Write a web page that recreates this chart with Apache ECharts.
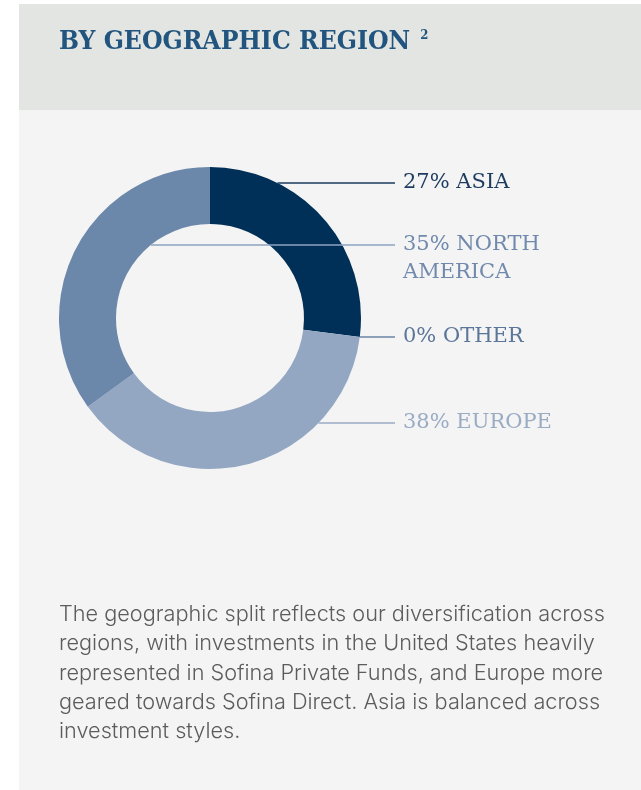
<!DOCTYPE html>
<html>
<head>
<meta charset="utf-8">
<script src="https://cdn.jsdelivr.net/npm/echarts@6/dist/echarts.min.js"></script>
<style>
	html, body { margin: 0; padding: 0; background: #ffffff; }
	#chart { width: 641px; height: 790px; }
</style>
</head>
<body>
<div id="chart"></div>
<script>
// regions in drawing order (clockwise from 12 o'clock)
var categories = ['ASIA', 'OTHER', 'EUROPE', 'NORTH AMERICA'];
var shares = [27, 0, 38, 35];

var sliceColors = ['#003057', '#5d7899', '#94a7c2', '#6b87aa'];
var labelColors = ['#1d3b5e', '#5b7699', '#9aabc4', '#7189ad'];
var lineColors = ['#1d3b5e', '#6a85a7', '#9aabc4', '#8ea3c0'];

var paragraph = [
	'The geographic split reflects our diversification across',
	'regions, with investments in the United States heavily',
	'represented in Sofina Private Funds, and Europe more',
	'geared towards Sofina Direct. Asia is balanced across',
	'investment styles.'
];

// layout
var cx = 210, cy = 318, rIn = 94, rOut = 151;
var lineEndX = 395, labelX = 403, labelLH = 28;
var labelRows = [183, 337, 423, 245]; // y of each leader line

// angular span of each slice, measured clockwise from the top
var total = shares.reduce((a, b) => a + b, 0);
var spans = [];
var acc = 0;
shares.forEach(v => {
	var a0 = acc / total * Math.PI * 2;
	acc += v;
	spans.push([a0, acc / total * Math.PI * 2]);
});

// right-most point of a slice on a horizontal line
function edgeX(i, y) {
	var s = spans[i];
	if (s[1] - s[0] < 1e-6) {
		return cx + rOut * Math.sin(s[0]);
	}
	for (var x = cx + rOut; x >= cx - rOut; x -= 0.25) {
		var dx = x - cx, dy = y - cy;
		var d = Math.sqrt(dx * dx + dy * dy);
		if (d < rIn || d > rOut) continue;
		var t = Math.atan2(dx, -dy);
		if (t < 0) t += Math.PI * 2;
		if (t >= s[0] && t <= s[1]) return x;
	}
	return cx;
}

var chart = echarts.init(document.getElementById('chart'));

var pieBase = {
	type: 'pie',
	silent: true,
	center: [cx, cy],
	radius: [rIn, rOut],
	startAngle: 90,
	clockwise: true,
	avoidLabelOverlap: false
};

chart.setOption({
	backgroundColor: '#ffffff',
	animation: false,
	title: {
		left: 54,
		top: 24,
		text: '{t|BY GEOGRAPHIC REGION}{s|2}',
		textStyle: {
			rich: {
				t: {
					fontFamily: 'DejaVu Serif Condensed',
					fontWeight: 'bold',
					fontSize: 26.3,
					color: '#21557f'
				},
				s: {
					fontFamily: 'DejaVu Serif Condensed',
					fontWeight: 'bold',
					fontSize: 13,
					color: '#21557f',
					verticalAlign: 'top',
					padding: [0, 0, 10, 10]
				}
			}
		}
	},
	graphic: [
		{
			type: 'rect', z: -10,
			shape: { x: 19, y: 4, width: 622, height: 106 },
			style: { fill: '#e3e5e2' }
		},
		{
			type: 'rect', z: -10,
			shape: { x: 19, y: 110, width: 622, height: 680 },
			style: { fill: '#f4f4f4' }
		},
		{
			type: 'text',
			left: 59,
			top: 600,
			style: {
				text: paragraph.join('\n'),
				fontFamily: 'Inter',
				fontWeight: 300,
				fontSize: 21.7,
				lineHeight: 29.3,
				fill: '#5c5c5c'
			}
		}
	],
	series: [
		// the ring itself
		Object.assign({}, pieBase, {
			z: 2,
			data: categories.map((c, i) => ({
				name: c,
				value: shares[i],
				itemStyle: { color: sliceColors[i] }
			})),
			label: { show: false },
			labelLine: { show: false }
		}),
		// labels and leader lines, drawn over the ring
		Object.assign({}, pieBase, {
			z: 3,
			data: categories.map((c, i) => ({
				name: c,
				value: shares[i],
				itemStyle: { color: 'rgba(0,0,0,0)' },
				label: { color: labelColors[i] },
				labelLine: { lineStyle: { color: lineColors[i] } }
			})),
			label: {
				show: true,
				formatter: p => p.value + '% ' + p.name.replace(' ', '\n'),
				fontFamily: 'DejaVu Serif',
				fontSize: 21,
				lineHeight: labelLH
			},
			labelLine: {
				show: true,
				lineStyle: { width: 1.5 }
			},
			labelLayout: p => {
				var y = labelRows[p.dataIndex];
				return {
					x: labelX,
					y: y - labelLH / 2,
					align: 'left',
					verticalAlign: 'top',
					labelLinePoints: [[edgeX(p.dataIndex, y), y], [lineEndX, y], [lineEndX, y]]
				};
			}
		})
	]
});
</script>
</body>
</html>
